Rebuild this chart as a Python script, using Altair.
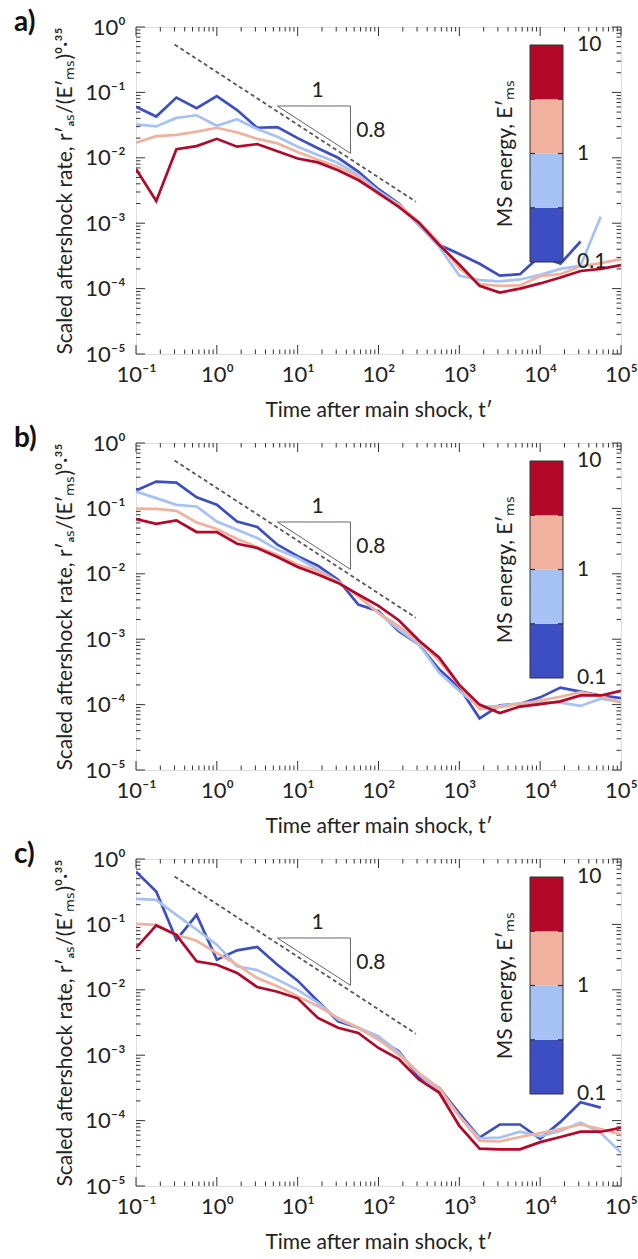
import json
import altair as alt
import pandas as pd

# ---------------- data ----------------
t_vals = [0.1, 0.178, 0.316, 0.562, 1.0, 1.78, 3.16, 5.62, 10.0, 17.8, 31.6, 56.2,
          100.0, 178.0, 316.0, 562.0, 1000.0, 1780.0, 3160.0, 5620.0, 10000.0,
          17800.0, 31600.0, 56200.0, 100000.0]

series_colors = ["#3c4ec2", "#a6c2f4", "#f0b29e", "#b40828"]  # MS energy bins 0.1-0.3, 0.3-1, 1-3, 3-10

# panel a
a_bin1 = [0.0603, 0.0427, 0.0832, 0.0575, 0.088, 0.0537, 0.0288, 0.0295, 0.0200, 0.0140,
          0.0100, 0.00617, 0.00331, 0.00200, 0.000933, 0.000468, 0.000339, 0.000240,
          0.000158, 0.000166, 0.000316, 0.000240, 0.000525]
a_bin2 = [0.0324, 0.0302, 0.0407, 0.0447, 0.0309, 0.0389, 0.0275, 0.0209, 0.0148, 0.0110,
          0.00832, 0.00550, 0.00309, 0.00195, 0.000933, 0.000437, 0.000158, 0.000135,
          0.000129, 0.000138, 0.000162, 0.000200, 0.000224, 0.00126]
a_bin3 = [0.0170, 0.0214, 0.0224, 0.0251, 0.0288, 0.0245, 0.0195, 0.0166, 0.0123, 0.00933,
          0.00724, 0.00513, 0.00275, 0.00191, 0.00105, 0.000501, 0.000204, 0.000117,
          0.000110, 0.000112, 0.000155, 0.000166, 0.000219, 0.000245, 0.000282]
a_bin4 = [0.00676, 0.00219, 0.0135, 0.0151, 0.0195, 0.0148, 0.0162, 0.0126, 0.00977, 0.00851,
          0.00646, 0.00457, 0.00288, 0.00178, 0.00102, 0.000468, 0.000234, 0.000110,
          0.0000871, 0.000100, 0.000120, 0.000148, 0.000186, 0.000200, 0.000229]

# panel b
b_bin1 = [0.1875, 0.257, 0.248, 0.148, 0.1135, 0.0631, 0.0519, 0.0279, 0.0186, 0.0133,
          0.00813, 0.00339, 0.00269, 0.00132, 0.000832, 0.000347, 0.000182, 0.0000617,
          0.0000977, 0.000102, 0.000129, 0.000182, 0.000158, 0.000138, 0.000126]
b_bin2 = [0.181, 0.1435, 0.1135, 0.107, 0.0631, 0.0472, 0.0352, 0.0234, 0.01746, 0.01159,
          0.00769, 0.00454, 0.00253, 0.00141, 0.000832, 0.000309, 0.000162, 0.0000912,
          0.0000955, 0.000105, 0.000107, 0.000107, 0.0000955, 0.000123, 0.000110]
b_bin3 = [0.0986, 0.0986, 0.0918, 0.0611, 0.0483, 0.0340, 0.0257, 0.0196, 0.0138, 0.01094,
          0.00752, 0.00454, 0.00253, 0.00158, 0.000933, 0.000468, 0.000195, 0.0000851,
          0.0000912, 0.000102, 0.000115, 0.000132, 0.000155, 0.000135, 0.000107]
b_bin4 = [0.0686, 0.0582, 0.0655, 0.0435, 0.0435, 0.0288, 0.0248, 0.0181, 0.01274, 0.00973,
          0.00726, 0.00482, 0.00324, 0.00195, 0.000955, 0.000525, 0.000200, 0.000100,
          0.0000741, 0.0000933, 0.000102, 0.000112, 0.000138, 0.000138, 0.000162]

# panel c
c_bin1 = [0.641, 0.318, 0.0582, 0.140, 0.0288, 0.0401, 0.0451, 0.0242, 0.0138, 0.00668,
          0.00331, 0.00263, 0.00178, 0.00115, 0.000468, 0.000316, 0.000129, 0.0000550,
          0.0000871, 0.0000871, 0.0000525, 0.0000955, 0.000191, 0.000158]
c_bin2 = [0.245, 0.237, 0.140, 0.0832, 0.0490, 0.0229, 0.0200, 0.0143, 0.0100, 0.00631,
          0.00355, 0.00263, 0.00195, 0.00110, 0.000513, 0.000282, 0.000117, 0.0000537,
          0.0000550, 0.0000676, 0.0000575, 0.0000692, 0.0000933, 0.0000646, 0.0000324]
c_bin3 = [0.102, 0.0986, 0.0692, 0.0562, 0.0363, 0.0242, 0.0151, 0.0113, 0.00794, 0.00562,
          0.00372, 0.00263, 0.00174, 0.00102, 0.000537, 0.000316, 0.000117, 0.0000490,
          0.0000479, 0.0000562, 0.0000646, 0.0000741, 0.0000871, 0.0000741, 0.0000617]
c_bin4 = [0.0437, 0.0964, 0.0692, 0.0272, 0.0242, 0.0181, 0.0110, 0.00933, 0.00741, 0.00372,
          0.00263, 0.00219, 0.00129, 0.000871, 0.000427, 0.000269, 0.0000832, 0.0000372,
          0.0000363, 0.0000363, 0.0000468, 0.0000562, 0.0000676, 0.0000676, 0.0000776]

# reference power law (slope -0.8) and slope triangle
ref_t = [0.3, 290.0]
ref_rate = [0.54, 0.00213]
tri_t = [5.6, 45.0, 45.0, 5.6]
tri_rate = [0.062, 0.062, 0.0117, 0.062]
tri_labels = ["1", "0.8"]
tri_label_t = [17.7, 53.0]
tri_label_rate = [0.084, 0.021]

# axis ticks / labels
x_tick_vals = [0.1, 1.0, 10.0, 100.0, 1000.0, 10000.0, 100000.0]
x_tick_labels = ["10⁻¹", "10⁰", "10¹", "10²", "10³", "10⁴", "10⁵"]
y_tick_vals = [1e-5, 1e-4, 1e-3, 1e-2, 1e-1, 1.0]
y_tick_labels = ["10⁻⁵", "10⁻⁴", "10⁻³", "10⁻²", "10⁻¹", "10⁰"]
x_decades = [-1, 0, 1, 2, 3, 4]
y_decades = [-5, -4, -3, -2, -1]
minor_mults = [2, 3, 4, 5, 6, 7, 8, 9]

# colour bar
cb_lo = [0.1, 0.316, 1.0, 3.16]
cb_hi = [0.316, 1.0, 3.16, 10.0]
cb_bounds = [0.316, 1.0, 3.16]
cb_label_vals = [0.1, 1.0, 10.0]
cb_labels = ["0.1", "1", "10"]

# ---------------- layout constants ----------------
W, H = 485, 327
FONT = "Lato"
INK = "#222222"
TICK = "#333333"

x_minor = [m * 10.0 ** e for e in x_decades for m in minor_mults]
y_minor = [m * 10.0 ** e for e in y_decades for m in minor_mults]

x_label_expr = json.dumps(x_tick_labels, ensure_ascii=False) + "[round(log(datum.value)/LN10)+1]"
y_label_expr = json.dumps(y_tick_labels, ensure_ascii=False) + "[round(log(datum.value)/LN10)+5]"

X_SCALE = alt.Scale(type="log", domain=[0.1, 1e5])
Y_SCALE = alt.Scale(type="log", domain=[1e-5, 1.0])

X_AXIS = alt.Axis(values=x_tick_vals, labelExpr=x_label_expr, ticks=False, tickSize=0,
                  domain=False, grid=False, labelFontSize=22, labelPadding=10,
                  labelFont=FONT, labelColor=INK, labelFlush=False, labelOverlap=False,
                  title="Time after main shock, t′", titleFontSize=21, titleFont=FONT,
                  titleFontWeight="normal", titleColor=INK, titleX=W / 2, titleY=62,
                  titleBaseline="alphabetic", titleAlign="center")
Y_AXIS = alt.Axis(values=y_tick_vals, labelExpr=y_label_expr, ticks=False, tickSize=0,
                  domain=False, grid=False, labelFontSize=22, labelPadding=11,
                  labelFont=FONT, labelColor=INK, labelFlush=False, labelOverlap=False,
                  title="Scaled aftershock rate, r′ₐₛ/(E′ₘₛ)⁰·³⁵", titleFontSize=21,
                  titleFont=FONT, titleFontWeight="normal", titleColor=INK,
                  titleX=-65, titleY=H / 2, titleAngle=270, titleBaseline="alphabetic",
                  titleAlign="center")


def xe():
    return alt.X("t:Q", scale=X_SCALE, axis=X_AXIS)


def ye():
    return alt.Y("rate:Q", scale=Y_SCALE, axis=Y_AXIS)


def tick_layers():
    layers = []
    for vals, L in [(x_tick_vals, 9), (x_minor, 4.5)]:
        df = pd.DataFrame({"t": vals})
        layers.append(alt.Chart(df).mark_rule(color=TICK, strokeWidth=1).encode(
            x=xe(), y=alt.value(0), y2=alt.value(L)))
        layers.append(alt.Chart(df).mark_rule(color=TICK, strokeWidth=1).encode(
            x=xe(), y=alt.value(H), y2=alt.value(H - L)))
    for vals, L in [(y_tick_vals, 9), (y_minor, 4.5)]:
        df = pd.DataFrame({"rate": vals})
        layers.append(alt.Chart(df).mark_rule(color=TICK, strokeWidth=1).encode(
            y=ye(), x=alt.value(0), x2=alt.value(L)))
        layers.append(alt.Chart(df).mark_rule(color=TICK, strokeWidth=1).encode(
            y=ye(), x=alt.value(W), x2=alt.value(W - L)))
    return layers


def colorbar_layer():
    cb_scale = alt.Scale(type="log", domain=[0.1, 10.0], range=[235, 18])
    seg = pd.DataFrame({"lo": cb_lo, "hi": cb_hi, "col": series_colors})
    rects = alt.Chart(seg).mark_rect().encode(
        y=alt.Y("lo:Q", scale=cb_scale, axis=None), y2="hi:Q",
        x=alt.value(394), x2=alt.value(427), color=alt.Color("col:N", scale=None))
    outline = alt.Chart(pd.DataFrame({"lo": [cb_lo[0]], "hi": [cb_hi[-1]]})).mark_rect(
        filled=False, stroke="#333333", strokeWidth=1).encode(
        y=alt.Y("lo:Q", scale=cb_scale, axis=None), y2="hi:Q",
        x=alt.value(394), x2=alt.value(427))
    bdf = pd.DataFrame({"lo": cb_bounds})
    bt1 = alt.Chart(bdf).mark_rule(color="#333333", strokeWidth=1.2).encode(
        y=alt.Y("lo:Q", scale=cb_scale, axis=None), x=alt.value(394), x2=alt.value(399))
    bt2 = alt.Chart(bdf).mark_rule(color="#333333", strokeWidth=1.2).encode(
        y=alt.Y("lo:Q", scale=cb_scale, axis=None), x=alt.value(422), x2=alt.value(427))
    labels = alt.Chart(pd.DataFrame({"lo": cb_label_vals, "lab": cb_labels})).mark_text(
        align="left", baseline="middle", fontSize=21, font=FONT, color=INK).encode(
        y=alt.Y("lo:Q", scale=cb_scale, axis=None), x=alt.value(441), text="lab:N")
    title = alt.Chart(pd.DataFrame({"lab": ["MS energy, E′ₘₛ"]})).mark_text(
        angle=270, align="center", baseline="alphabetic", fontSize=21, font=FONT,
        color=INK).encode(x=alt.value(376), y=alt.value(126.5), text="lab:N")
    return alt.layer(rects, outline, bt1, bt2, labels, title)


def panel(label, series):
    layers = tick_layers()
    ref = alt.Chart(pd.DataFrame({"t": ref_t, "rate": ref_rate})).mark_line(
        color="#555555", strokeWidth=1.8, strokeDash=[4, 3]).encode(x=xe(), y=ye())
    tri = alt.Chart(pd.DataFrame({"t": tri_t, "rate": tri_rate, "o": [0, 1, 2, 3]})).mark_line(
        color="#666666", strokeWidth=1).encode(x=xe(), y=ye(), order="o:Q")
    txt1 = alt.Chart(pd.DataFrame({"t": tri_label_t[:1], "rate": tri_label_rate[:1],
                                   "lab": tri_labels[:1]})).mark_text(
        baseline="alphabetic", align="center", fontSize=21, font=FONT, color=INK).encode(
        x=xe(), y=ye(), text="lab:N")
    txt2 = alt.Chart(pd.DataFrame({"t": tri_label_t[1:], "rate": tri_label_rate[1:],
                                   "lab": tri_labels[1:]})).mark_text(
        baseline="alphabetic", align="left", fontSize=21, font=FONT, color=INK).encode(
        x=xe(), y=ye(), text="lab:N")
    layers += [ref, tri, txt1, txt2]
    for vals, col in zip(series, series_colors):
        df = pd.DataFrame({"t": t_vals[:len(vals)], "rate": vals})
        layers.append(alt.Chart(df).mark_line(color=col, strokeWidth=2.7, clip=True).encode(
            x=xe(), y=ye()))
    lab = alt.Chart(pd.DataFrame({"lab": [label]})).mark_text(
        align="left", baseline="alphabetic", fontSize=28, fontWeight="bold", font=FONT,
        color="#111111").encode(x=alt.value(-122), y=alt.value(4), text="lab:N")
    layers.append(lab)
    main = alt.layer(*layers)
    return alt.layer(main, colorbar_layer()).resolve_scale(y="independent").properties(
        width=W, height=H)


pa = panel("a)", [a_bin1, a_bin2, a_bin3, a_bin4])
pb = panel("b)", [b_bin1, b_bin2, b_bin3, b_bin4])
pc = panel("c)", [c_bin1, c_bin2, c_bin3, c_bin4])

chart = alt.vconcat(pa, pb, pc, spacing=89, bounds="flush").properties(
    padding={"left": 13, "top": 8, "right": 0, "bottom": 0}
).configure_view(stroke="#333333", strokeWidth=1.5).configure(font=FONT)

chart.save("out.html", embed_options={"renderer": "svg", "actions": False})
